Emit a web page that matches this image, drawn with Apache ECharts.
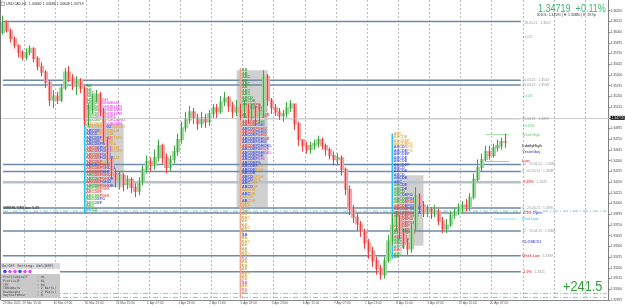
<!DOCTYPE html>
<html><head><meta charset="utf-8">
<script src="https://cdn.jsdelivr.net/npm/echarts/dist/echarts.min.js"></script>
<style>html,body{margin:0;padding:0;background:#fff;}#c{width:625px;height:308px;}</style>
</head><body><div id="c"></div>
<script>
// ---------------- DATA ----------------
const symbolTitle = 'USDCAD,H1  1.34682 1.34688 1.34648 1.34719';
const quoteText = '1.34719  +0.11%';
const dayInfo = 'ID1OL: 1.34591 | H: 1.34880 | R: 29.9p';
const pnlText = '+241.5';
const slotCount = 156;
const firstOpen = 1.35996;
const closes = [1.36111,1.36019,1.35926,1.35845,1.35764,1.35706,1.35764,1.35810,1.35695,1.35602,
1.35533,1.35417,1.35208,1.35255,1.35208,1.35347,1.35533,1.35463,1.35371,1.35440,
1.35347,1.34977,1.35093,1.35232,1.35278,1.35070,1.34746,1.34514,1.34341,1.34259,
1.34328,1.34225,1.34283,1.34190,1.34144,1.34259,1.34398,1.34491,1.34444,1.34537,
1.34676,1.34537,1.34421,1.34514,1.34607,1.34746,1.34884,1.34977,1.35070,1.35000,
1.34931,1.35000,1.34954,1.35047,1.35116,1.35070,1.35185,1.35232,1.35139,1.35070,
1.35116,1.35070,1.35139,1.35023,1.35093,1.35000,1.35070,1.35486,1.35208,1.35116,
1.35070,1.35023,1.35047,1.35116,1.35162,1.34931,1.34746,1.34676,1.34630,1.34676,
1.34699,1.34746,1.34676,1.34630,1.34560,1.34514,1.34537,1.34398,1.34167,1.33935,
1.33843,1.33762,1.33681,1.33541,1.33449,1.33333,1.33241,1.33172,1.33333,1.33565,
1.33750,1.33843,1.33657,1.33541,1.33472,1.33704,1.34097,1.33982,1.33889,1.33935,
1.33889,1.33912,1.33796,1.33704,1.33750,1.33866,1.33889,1.33935,1.33982,1.33959,
1.34074,1.34283,1.34421,1.34514,1.34607,1.34560,1.34653,1.34676,1.34722,1.34719];
const highs = [1.36192,1.36135,1.36042,1.35949,1.35857,1.35787,1.35810,1.35845,1.35822,1.35718,
1.35648,1.35556,1.35440,1.35324,1.35301,1.35394,1.35579,1.35602,1.35510,1.35486,
1.35463,1.35371,1.35162,1.35278,1.35324,1.35301,1.35116,1.34769,1.34537,1.34398,
1.34375,1.34352,1.34328,1.34306,1.34236,1.34306,1.34444,1.34560,1.34537,1.34630,
1.34746,1.34699,1.34584,1.34560,1.34676,1.34815,1.34954,1.35070,1.35139,1.35116,
1.35047,1.35070,1.35047,1.35093,1.35162,1.35162,1.35255,1.35301,1.35255,1.35185,
1.35208,1.35162,1.35208,1.35162,1.35162,1.35139,1.35162,1.35556,1.35510,1.35232,
1.35162,1.35116,1.35093,1.35185,1.35208,1.35162,1.34954,1.34746,1.34722,1.34722,
1.34746,1.34791,1.34769,1.34699,1.34653,1.34607,1.34584,1.34560,1.34421,1.34213,
1.33982,1.33889,1.33796,1.33704,1.33588,1.33495,1.33380,1.33287,1.33380,1.33634,
1.33889,1.33912,1.33866,1.33704,1.33588,1.33773,1.34190,1.34121,1.34028,1.33982,
1.33959,1.33982,1.33935,1.33843,1.33820,1.33912,1.33959,1.34005,1.34028,1.34051,
1.34121,1.34352,1.34514,1.34584,1.34676,1.34676,1.34699,1.34746,1.34769,1.34815];
const lows = [1.35972,1.35996,1.35880,1.35810,1.35706,1.35672,1.35672,1.35730,1.35648,1.35556,
1.35486,1.35347,1.35139,1.35116,1.35162,1.35185,1.35324,1.35417,1.35324,1.35266,
1.35290,1.34907,1.34896,1.35047,1.35185,1.35023,1.34699,1.34444,1.34283,1.34190,
1.34167,1.34144,1.34167,1.34121,1.34074,1.34097,1.34213,1.34352,1.34375,1.34398,
1.34491,1.34467,1.34352,1.34375,1.34467,1.34560,1.34699,1.34838,1.34931,1.34931,
1.34861,1.34884,1.34884,1.34907,1.35000,1.35000,1.35047,1.35139,1.35070,1.35000,
1.35023,1.34977,1.35000,1.34931,1.34977,1.34907,1.34931,1.35000,1.35139,1.35047,
1.35023,1.34977,1.34954,1.35000,1.35070,1.34861,1.34676,1.34607,1.34584,1.34584,
1.34630,1.34653,1.34630,1.34560,1.34514,1.34444,1.34444,1.34328,1.34097,1.33866,
1.33773,1.33681,1.33611,1.33472,1.33356,1.33264,1.33172,1.33114,1.33125,1.33310,
1.33518,1.33681,1.33588,1.33472,1.33403,1.33426,1.33681,1.33889,1.33843,1.33843,
1.33820,1.33843,1.33750,1.33657,1.33657,1.33727,1.33820,1.33866,1.33889,1.33912,
1.33912,1.34051,1.34259,1.34375,1.34491,1.34514,1.34537,1.34607,1.34630,1.34653];

const xTickLabels = ['29 Mar 2021','29 Mar 15:00','30 Mar 07:00','30 Mar 23:00','31 Mar 15:00','1 Apr 07:00','1 Apr 23:00','2 Apr 15:00','5 Apr 07:00','5 Apr 23:00','6 Apr 15:00','7 Apr 07:00','7 Apr 23:00','8 Apr 15:00','9 Apr 07:00','19 Apr 15:00','20 Apr 07:00'];
const yMin = 1.32875, yMax = 1.36375, yStep = 0.00125;

// horizontal levels: price, from slot, to slot
const levelPrices = [1.36123, 1.35440, 1.35382, 1.34456, 1.34375, 1.33947, 1.33889, 1.33681, 1.33391, 1.33206];
const levelFrom   = [0,0,0,0,0,0,0,0,0,0];
const levelTo     = [133,133,133,133,133,133,133,133,133,133];
const softLevelPrice = 1.34248;          // lighter thick level
const purpleLevel = [1.34989, 67, 133];
const dashLevels = [1.33912, 1.32952, 1.32905];
const weekHighMark = [1.34804, 124, 130];
const weekLowMark  = [1.34491, 124, 130];
const firstLowMark = [1.33820, 126, 132];

// gray value-area boxes: fromSlot, toSlot, topPrice, bottomPrice
const boxes = [[22,31,1.34931,1.34190],[60,68,1.35556,1.33959],[101,108,1.34329,1.33507]];
// vertical profile start lines: slot, topPrice, bottomPrice
const vlines = [[21,1.35243,1.33878,'#28c4f0'],[61,1.35579,1.32894,'#f3a283'],[100,1.34815,1.33356,'#28c4f0']];

// market profile rows (color code + letter count), from top price with row step
const profileSlots = [21, 61, 100];
const profileTops = [1.35371, 1.35556, 1.34815];
const rowStep = 0.0004;
const profile1Rows = ["g2","g2","g3","g4","g5m3","g4m9","g6m8","g5m9","g4m10","g4m8","g5o4m6","o8m6","o6b4o5","b5o8","b4o7","b6r4o4","b5o6","b7o5","r4b6o3","r5b5o4","r6b4","r5b6o2","r6o5","b4r6","r7b5","r6b3","g3r6m4","g4r5b3","r6b4","g5r4b2","g4r5","r6","g5r4","g4b3","g4b2","g3","c2g2"];
const profile2Rows = ["g2","g2","g3","g2","g3","g2","g3","g3","g4","g5","g4r3","g5r4","g6r4","r5g4r2","g4r6","r6g3","r5b4","b4r6","r5b5","b6r4","b8r3","b10","r4b8","b7m4","b9m3","b8","b6m3","b7","b6o2","b5o3","b5","b4o4","b4o3","b3o3","b4o2","o5","b3o2","o4","b2o3","o3","o3","y3","o2","o3","y2","o2","o3","y2","b2","o2","y3","o2","o2","y2","o3","p2","o2","y2","o2","o3","o2","y2","m2","o2","p2","y2"];
const profile3Rows = ["o3","y5","o6","o7","b4o3","b5o2","b6","b5","b5","b6","b4","b5","b4","b5","b3","g2b3","g3b2","g4","g3b4","g5b4","g4r3b5","r4b8","r6b6","r7b4","r8b2","r7","g3r5","r6","g4r4","g5r3","r5","g4r2","g5","g4","r3","g3","g2"];

// right-side level texts
const levelTextSlot = 133;
const levelTexts = [
 ['{k|· 26.03.21 : 1.3612}', 1.36111],
 ['{G|+1.0%}', 1.35949],
 ['{k|20.03.21 : 1.3544}', 1.35440],
 ['{k|20.03.21 : 1.3538}', 1.35382],
 ['{G|+0.5%}', 1.35255],
 ['{k|20.04.21 : 1.3499}', 1.34989],
 ['{G|+0.25%}', 1.34907],
 ['{W|Week High}', 1.34804],
 ['{D|LdailyHigh}', 1.34676],
 ['{B|Yesterday}', 1.34607],
 ['{R|Low}', 1.34491],
 ['{k|20 : 19.04.21 : 1.3446}', 1.34456],
 ['{k|0 : 02.04.21 : 1.3438}', 1.34375],
 ['{R|-0.25%}{k| : 1.3425}', 1.34248],
 ['{k|0 : 20.04.21 : 1.3395}', 1.33947],
 ['{R|-0.5%}{B| Open}', 1.33889],
 ['{C|First Low}', 1.33820],
 ['{k|12 : 15.03.21 : 1.3368}', 1.33681],
 ['{B|CLOSE D1}', 1.33554],
 ['{R|Week Low}{k| : 1.3339}', 1.33391],
 ['{R|-1.0%}{k| : 1.3321}', 1.33206]
];
const leftBoxText = ['WEEKLY(M) box 0.25', 1.33935];

const panelTitle = 'On/OFF Setting: Del(BSP)';
const panelNames = ['ProfileDataTF','ProfileTF','TPT','IBNumbers','RowHeight','DayStartHour'];
const panelValues = [': H1',': H1',': H4',': 2 Bar(s)',': 2 Pip(s)',': 0'];
const panelDots = ['#3d49e8','#e84ae8','#e84ae8','#3d49e8','#e84ae8','#e84ae8'];

// ---------------- BUILD ----------------
const chart = echarts.init(document.getElementById('c'), null, {renderer:'canvas', width:625, height:308});
const cats = Array.from({length: slotCount}, (_, i) => String(i));
const ohlc = closes.map((c, i) => [i === 0 ? firstOpen : closes[i-1], c, lows[i], highs[i]]);
const last = closes[closes.length - 1];

const colorMap = {g:'#1f9f1f', m:'#e233e2', o:'#e2a02e', y:'#c9b33c', b:'#2b3be6', r:'#e62a2a', c:'#22b8e8', p:'#f070b4'};
const rich = {};
Object.keys(colorMap).forEach(k => rich[k] = {color: colorMap[k], fontSize: 3.8, fontWeight: 'bold', fontFamily: 'Liberation Sans', lineHeight: 4});
const LETTERS = 'ABCDEFGHIJKLMNOPQRSTUVWXYZ';
function rowRich(spec) {
  let s = '', k = 0;
  spec.replace(/([a-z])(\d+)/g, (m, c, num) => { const L = +num; s += '{' + c + '|' + LETTERS.slice(k, k + L) + '}'; k += L; return m; });
  return s;
}
const profileRowsAll = [profile1Rows, profile2Rows, profile3Rows];
const profileItems = [];
profileRowsAll.forEach((rows, p) => rows.forEach((spec, r) => {
  profileItems.push({value: [profileSlots[p], profileTops[p] - r * rowStep], label: {formatter: rowRich(spec), rich: rich}});
}));

const series = [];
// boxes
series.push({type:'line', data:[[0, null]], symbol:'none', z:1, silent:true, lineStyle:{opacity:0},
  markArea:{silent:true, itemStyle:{color:'#d0d0d0'}, data: boxes.map(b => [{coord:[b[0], b[2]]}, {coord:[b[1], b[3]]}])}});
// solid levels
levelPrices.forEach((p, i) => series.push({type:'line', z:2, silent:true, symbol:'none', data:[[levelFrom[i], p],[levelTo[i], p]], lineStyle:{color:'#6f8aa6', width:1.5}}));
series.push({type:'line', z:2, silent:true, symbol:'none', data:[[0, softLevelPrice],[133, softLevelPrice]], lineStyle:{color:'#b4c2d0', width:2.6}});
series.push({type:'line', z:2, silent:true, symbol:'none', data:[[purpleLevel[1], purpleLevel[0]],[purpleLevel[2], purpleLevel[0]]], lineStyle:{color:'#c48ee6', width:1}});
dashLevels.forEach(p => series.push({type:'line', z:2, silent:true, symbol:'none', data:[[0, p],[slotCount - 1, p]], lineStyle:{color:'#79cccc', width:1, type:[5,2,1,2]}}));
series.push({type:'line', z:2, silent:true, symbol:'none', data:[[weekHighMark[1], weekHighMark[0]],[weekHighMark[2], weekHighMark[0]]], lineStyle:{color:'#9ee09e', width:1}});
series.push({type:'line', z:2, silent:true, symbol:'none', data:[[weekLowMark[1], weekLowMark[0]],[weekLowMark[2], weekLowMark[0]]], lineStyle:{color:'#f2a0a0', width:1}});
series.push({type:'line', z:2, silent:true, symbol:'none', data:[[firstLowMark[1], firstLowMark[0]],[firstLowMark[2], firstLowMark[0]]], lineStyle:{color:'#8fe8f4', width:1}});
// vertical profile lines
vlines.forEach(v => series.push({type:'line', z:3, silent:true, symbol:'none', data:[[v[0], v[1]],[v[0], v[2]]], lineStyle:{color:v[3], width:1.8}}));
// profile text
series.push({type:'scatter', z:3, silent:true, symbolSize:1, itemStyle:{color:'rgba(0,0,0,0)'}, data: profileItems,
  label:{show:true, position:'right', distance:0, offset:[1,0], rich: rich}});
// candles
series.push({type:'candlestick', z:4, silent:true, barWidth:3.6, data: ohlc,
  itemStyle:{color:'#9fd89f', color0:'#f4a2a2', borderColor:'#9fd89f', borderColor0:'#f4a2a2', borderWidth:1.2}});
series.push({type:'candlestick', z:5, silent:true, barWidth:1.3, data: ohlc,
  itemStyle:{color:'#13901a', color0:'#e31414', borderColor:'#13901a', borderColor0:'#e31414', borderWidth:0.7},
  markLine:{silent:true, symbol:'none', animation:false, data:[{yAxis: last}],
    lineStyle:{color:'#cfcfcf', width:1, type:'solid'},
    label:{position:'end', distance:2, formatter: () => last.toFixed(5), backgroundColor:'#111', color:'#fff', fontSize:3.4, padding:[1,1,0,1], fontFamily:'Liberation Sans'}}});
// level texts
const labelRich = {
  k:{color:'#7a7a7a', fontSize:3.4, fontFamily:'Liberation Sans'},
  G:{color:'#2fae4e', fontSize:3.6, fontFamily:'Liberation Sans'},
  W:{color:'#3cb43c', fontSize:3.6, fontFamily:'Liberation Sans'},
  R:{color:'#e22222', fontSize:3.6, fontWeight:'bold', fontFamily:'Liberation Sans'},
  B:{color:'#2a3ad2', fontSize:3.8, fontWeight:'bold', fontFamily:'Liberation Sans'},
  D:{color:'#111', fontSize:3.8, fontWeight:'bold', fontFamily:'Liberation Sans'},
  C:{color:'#22c0e8', fontSize:3.6, fontWeight:'bold', fontFamily:'Liberation Sans'}
};
series.push({type:'scatter', z:6, silent:true, symbolSize:1, itemStyle:{color:'rgba(0,0,0,0)'},
  data: levelTexts.map(t => ({value:[levelTextSlot, t[1]], label:{formatter: t[0], rich: labelRich}})),
  label:{show:true, position:'right', distance:0, offset:[1,0], rich: labelRich}});
series.push({type:'scatter', z:6, silent:true, symbolSize:1, itemStyle:{color:'rgba(0,0,0,0)'},
  data:[{value:[0, leftBoxText[1]], label:{formatter: leftBoxText[0]}}],
  label:{show:true, position:'right', distance:0, offset:[0,-1], color:'#222', fontSize:3.6, fontWeight:'bold', fontFamily:'Liberation Sans'}});

const graphics = [
  {type:'line', shape:{x1:0.5, y1:0, x2:0.5, y2:300}, style:{stroke:'#777', lineWidth:1}, z:100},
  {type:'text', left:6, top:2, style:{text: symbolTitle, fill:'#333', font:'3.6px "Liberation Sans"'}, z:100},
  {type:'rect', shape:{x:1, y:2, width:3.5, height:3.5}, style:{fill:'#fff', stroke:'#666', lineWidth:0.5}, z:100},
  {type:'text', x:538, y:3, scaleX:0.82, style:{text: quoteText, fill:'#3cb371', font:'11px "Liberation Sans"'}, z:100},
  {type:'text', x:537, y:14, style:{text: dayInfo, fill:'#333', font:'3.4px "Liberation Sans"'}, z:100},
  {type:'text', x:563, y:279, scaleX:0.85, style:{text: pnlText, fill:'#2f9f3a', font:'15px "Liberation Sans"'}, z:100},
  // panel
  {type:'rect', shape:{x:1, y:263, width:59, height:6}, style:{fill:'#d9d9d9'}, z:100},
  {type:'text', x:2, y:264, style:{text: panelTitle, fill:'#333', font:'3.6px "DejaVu Sans Mono"'}, z:101},
  {type:'rect', shape:{x:1, y:269, width:59, height:5}, style:{fill:'#ffffff'}, z:100},
  {type:'rect', shape:{x:1, y:274, width:59, height:24}, style:{fill:'#c9c9c9'}, z:100}
];
panelDots.forEach((c, i) => graphics.push({type:'circle', shape:{cx:5 + i * 5, cy:271.5, r:1.8}, style:{fill:c}, z:101}));
panelNames.forEach((nm, i) => {
  graphics.push({type:'text', x:3, y:276 + i * 3.6, style:{text: nm, fill:'#444', font:'3.2px "DejaVu Sans Mono"'}, z:101});
  graphics.push({type:'text', x:37, y:276 + i * 3.6, style:{text: panelValues[i], fill:'#444', font:'3.2px "DejaVu Sans Mono"'}, z:101});
});

chart.setOption({
  animation:false,
  backgroundColor:'#ffffff',
  grid:{left:1, right:13, top:0, bottom:8, containLabel:false},
  xAxis:{type:'category', data: cats, boundaryGap:true,
    axisLine:{show:true, lineStyle:{color:'#8a8a8a', width:1}},
    axisTick:{show:false},
    axisLabel:{interval:(i) => i === 0 || i % 8 === 5, align:'left', margin:2, fontSize:3.2, color:'#555', fontFamily:'Liberation Sans',
      formatter:(v, i) => { const idx = Number(v); return idx === 0 ? xTickLabels[0] : (xTickLabels[(idx - 5) / 8 + 1] || ''); }},
    splitLine:{show:true, interval:(i) => i % 8 === 6, lineStyle:{color:'#bdbdbd', width:1, type:[2,2]}}
  },
  yAxis:{type:'value', position:'right', min:yMin, max:yMax, interval:yStep, scale:true,
    axisLine:{show:true, lineStyle:{color:'#808080'}},
    axisTick:{show:true, length:2, lineStyle:{color:'#808080'}},
    axisLabel:{fontSize:3.2, color:'#444', margin:2, showMaxLabel:false, fontFamily:'Liberation Sans', formatter:(v) => v.toFixed(5)},
    splitLine:{show:false}
  },
  series: series,
  graphic: graphics
});
</script></body></html>
